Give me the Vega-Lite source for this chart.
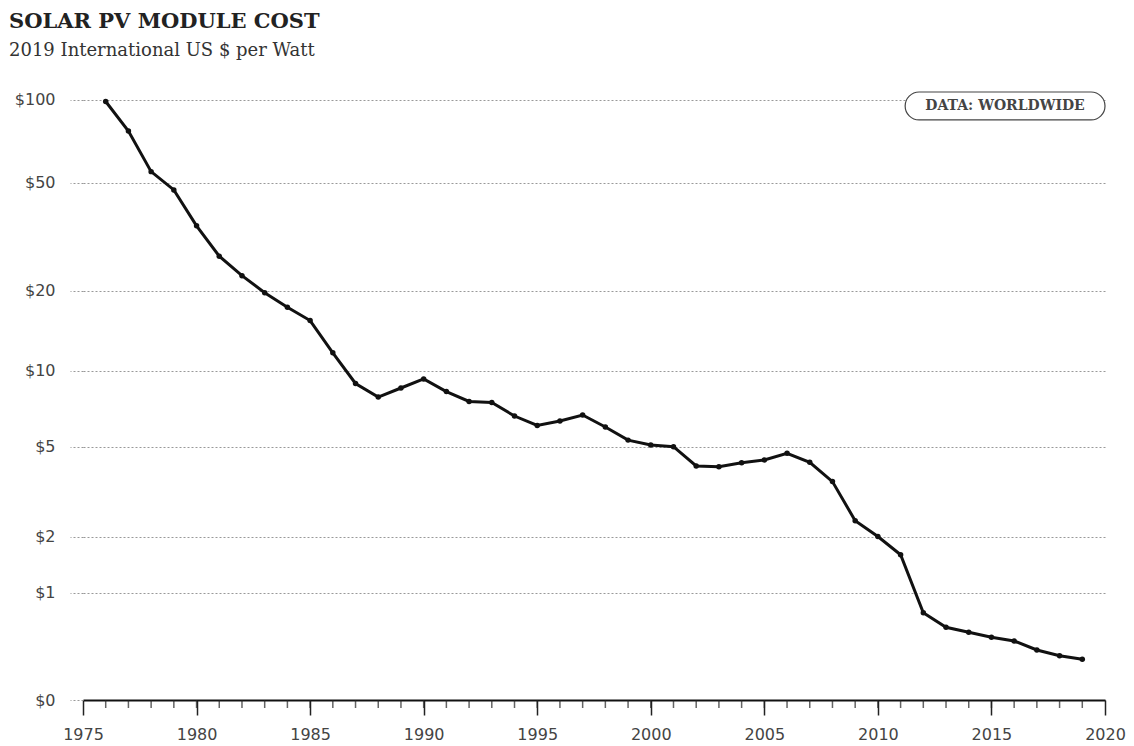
{
  "$schema": "https://vega.github.io/schema/vega-lite/v6.json",
  "width": 1022,
  "height": 610,
  "autosize": {"type": "none"},
  "padding": {"left": 83, "top": 90, "right": 29, "bottom": 46},
  "background": "white",
  "config": {"view": {"stroke": null}},
  "title": {
    "text": "SOLAR PV MODULE COST",
    "subtitle": "2019 International US $ per Watt",
    "anchor": "start",
    "frame": "group",
    "dx": -74,
    "offset": 30,
    "font": "DejaVu Serif",
    "fontSize": 21,
    "fontWeight": "bold",
    "color": "#222",
    "subtitleFont": "DejaVu Serif",
    "subtitleFontSize": 18,
    "subtitleColor": "#333",
    "subtitlePadding": 10
  },
  "layer": [
    {
      "data": {
        "values": [
          {"year": 1976, "cost": 98.7},
          {"year": 1977, "cost": 77.1},
          {"year": 1978, "cost": 54.9},
          {"year": 1979, "cost": 47.1},
          {"year": 1980, "cost": 34.8},
          {"year": 1981, "cost": 26.9},
          {"year": 1982, "cost": 22.8},
          {"year": 1983, "cost": 19.7},
          {"year": 1984, "cost": 17.4},
          {"year": 1985, "cost": 15.5},
          {"year": 1986, "cost": 11.7},
          {"year": 1987, "cost": 8.92},
          {"year": 1988, "cost": 7.9},
          {"year": 1989, "cost": 8.57},
          {"year": 1990, "cost": 9.29},
          {"year": 1991, "cost": 8.3},
          {"year": 1992, "cost": 7.59},
          {"year": 1993, "cost": 7.52},
          {"year": 1994, "cost": 6.65},
          {"year": 1995, "cost": 6.1},
          {"year": 1996, "cost": 6.35},
          {"year": 1997, "cost": 6.71},
          {"year": 1998, "cost": 6.01},
          {"year": 1999, "cost": 5.32},
          {"year": 2000, "cost": 5.08},
          {"year": 2001, "cost": 5.0},
          {"year": 2002, "cost": 4.16},
          {"year": 2003, "cost": 4.13},
          {"year": 2004, "cost": 4.29},
          {"year": 2005, "cost": 4.41},
          {"year": 2006, "cost": 4.7},
          {"year": 2007, "cost": 4.31},
          {"year": 2008, "cost": 3.57},
          {"year": 2009, "cost": 2.39},
          {"year": 2010, "cost": 2.01},
          {"year": 2011, "cost": 1.63},
          {"year": 2012, "cost": 0.742},
          {"year": 2013, "cost": 0.578},
          {"year": 2014, "cost": 0.527},
          {"year": 2015, "cost": 0.477},
          {"year": 2016, "cost": 0.441},
          {"year": 2017, "cost": 0.359},
          {"year": 2018, "cost": 0.31},
          {"year": 2019, "cost": 0.281}
        ]
      },
      "layer": [
        {
          "mark": {"type": "tick", "orient": "vertical", "color": "#222", "size": 8, "thickness": 1.5, "yOffset": 4},
          "encoding": {
            "x": {"field": "year", "type": "quantitative"},
            "y": {"datum": 0, "type": "quantitative"}
          }
        },
        {
          "mark": {
            "type": "line",
            "color": "#111",
            "strokeWidth": 3,
            "point": {"filled": true, "size": 30, "color": "#111"}
          },
          "encoding": {
            "x": {
              "field": "year",
              "type": "quantitative",
              "scale": {"domain": [1975, 2020], "nice": false, "zero": false},
              "axis": {
                "title": null,
                "values": [1975, 1980, 1985, 1990, 1995, 2000, 2005, 2010, 2015, 2020],
                "format": "d",
                "tickSize": 15,
                "tickColor": "#222",
                "tickWidth": 1.5,
                "domainColor": "#111",
                "domainWidth": 2,
                "grid": false,
                "labelPadding": 11,
                "labelFont": "DejaVu Sans",
                "labelFontSize": 16,
                "labelColor": "#444",
                "labelOverlap": false,
                "labelFlush": false
              }
            },
            "y": {
              "field": "cost",
              "type": "quantitative",
              "scale": {"type": "symlog", "constant": 0.7, "domain": [0, 108.6], "nice": false},
              "axis": {
                "title": null,
                "values": [0, 1, 2, 5, 10, 20, 50, 100],
                "labelExpr": "'$' + datum.value",
                "domain": false,
                "grid": true,
                "gridDash": [2, 2],
                "gridColor": "#999",
                "gridWidth": 1,
                "tickSize": 13,
                "tickDash": [2, 2],
                "tickColor": "#999",
                "labelPadding": 15,
                "labelFont": "DejaVu Sans",
                "labelFontSize": 16,
                "labelColor": "#444"
              }
            }
          }
        }
      ]
    },
    {
      "data": {"values": [{"label": "DATA: WORLDWIDE"}]},
      "mark": {"type": "rect", "cornerRadius": 14, "fill": "white", "stroke": "#444", "strokeWidth": 1.2},
      "encoding": {
        "x": {"datum": 2011.2, "type": "quantitative"},
        "x2": {"datum": 2020},
        "y": {"datum": 106.8, "type": "quantitative"},
        "y2": {"datum": 84.6}
      }
    },
    {
      "data": {"values": [{"label": "DATA: WORLDWIDE"}]},
      "mark": {"type": "text", "font": "DejaVu Serif", "fontSize": 14, "fontWeight": "bold", "color": "#444", "align": "center", "baseline": "middle"},
      "encoding": {
        "x": {"datum": 2015.6, "type": "quantitative"},
        "y": {"datum": 95, "type": "quantitative"},
        "text": {"field": "label"}
      }
    }
  ]
}
